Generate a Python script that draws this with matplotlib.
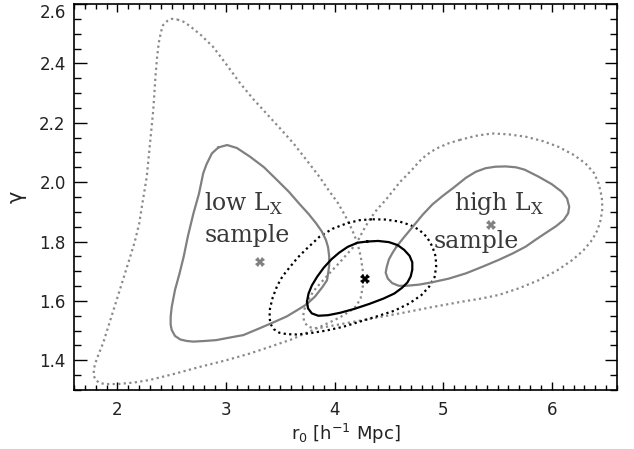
import matplotlib
matplotlib.use("Agg")
import matplotlib.pyplot as plt
from matplotlib.ticker import MultipleLocator

# ---- data ----
# low-Lx sample, 1-sigma (solid gray)
low1_x = [2.93, 3.01, 3.10, 3.22, 3.35, 3.47, 3.58, 3.68, 3.76, 3.83, 3.88, 3.92, 3.94, 3.95, 3.95,
          3.94, 3.93, 3.89, 3.82, 3.74, 3.66, 3.56, 3.45, 3.31, 3.16, 3.04, 2.91, 2.80, 2.70, 2.64,
          2.58, 2.53, 2.50, 2.49, 2.49, 2.50, 2.53, 2.57, 2.61, 2.65, 2.70, 2.75, 2.79, 2.82, 2.87]
low1_y = [2.117, 2.125, 2.115, 2.086, 2.050, 2.007, 1.967, 1.925, 1.893, 1.861, 1.835, 1.805, 1.780, 1.749, 1.720,
          1.693, 1.670, 1.648, 1.615, 1.588, 1.570, 1.548, 1.530, 1.508, 1.485, 1.477, 1.468, 1.465, 1.463, 1.465,
          1.470, 1.482, 1.502, 1.520, 1.547, 1.580, 1.637, 1.690, 1.749, 1.820, 1.895, 1.960, 2.030, 2.060, 2.097]
# low-Lx sample, 2-sigma (dotted gray)
low2_x = [2.55, 2.61, 2.67, 2.77, 2.88, 3.00, 3.13, 3.25, 3.37, 3.50, 3.62, 3.74, 3.86, 3.95, 4.03,
          4.10, 4.16, 4.21, 4.24, 4.26, 4.26, 4.24, 4.20, 4.14, 4.05, 3.95, 3.80, 3.60, 3.40, 3.22,
          3.00, 2.76, 2.53, 2.30, 2.15, 2.00, 1.90, 1.84, 1.80, 1.78, 1.785, 1.81, 1.87, 1.93, 1.99,
          2.05, 2.11, 2.16, 2.20, 2.23, 2.27, 2.30, 2.33, 2.35, 2.365, 2.38, 2.40, 2.42, 2.46, 2.50]
low2_y = [2.548, 2.540, 2.525, 2.495, 2.456, 2.398, 2.333, 2.280, 2.232, 2.180, 2.131, 2.075, 2.018, 1.970, 1.930,
          1.885, 1.840, 1.795, 1.750, 1.700, 1.650, 1.610, 1.583, 1.565, 1.545, 1.527, 1.502, 1.470, 1.445, 1.423,
          1.400, 1.378, 1.355, 1.334, 1.325, 1.320, 1.320, 1.323, 1.333, 1.350, 1.375, 1.405, 1.460, 1.530, 1.600,
          1.670, 1.740, 1.800, 1.860, 1.929, 2.018, 2.131, 2.243, 2.355, 2.420, 2.468, 2.505, 2.529, 2.543, 2.550]
# high-Lx sample, 1-sigma (solid gray)
high1_x = [4.57, 4.64, 4.72, 4.81, 4.90, 5.00, 5.09, 5.21, 5.30, 5.39, 5.48, 5.575, 5.67, 5.75, 5.88,
           6.00, 6.09, 6.14, 6.16, 6.15, 6.11, 6.04, 5.94, 5.85, 5.76, 5.64, 5.51, 5.36, 5.21, 5.05,
           4.90, 4.78, 4.66, 4.59, 4.53, 4.49, 4.47, 4.48, 4.50, 4.53]
high1_y = [1.783, 1.815, 1.850, 1.890, 1.925, 1.955, 1.980, 2.015, 2.035, 2.047, 2.052, 2.053, 2.050, 2.042, 2.018,
           1.993, 1.968, 1.945, 1.917, 1.895, 1.873, 1.852, 1.828, 1.806, 1.783, 1.760, 1.738, 1.715, 1.693, 1.675,
           1.663, 1.655, 1.651, 1.651, 1.660, 1.675, 1.695, 1.715, 1.740, 1.760]
# high-Lx sample, 2-sigma (dotted gray)
high2_x = [5.15, 5.30, 5.45, 5.60, 5.76, 5.92, 6.06, 6.20, 6.31, 6.39, 6.43, 6.46, 6.465, 6.45, 6.42,
           6.37, 6.29, 6.19, 6.05, 5.88, 5.70, 5.51, 5.35, 5.18, 5.03, 4.88, 4.74, 4.60, 4.45, 4.30,
           4.15, 4.00, 3.88, 3.80, 3.75, 3.72, 3.71, 3.72, 3.74, 3.77, 3.81, 3.86, 3.92, 3.98, 4.04,
           4.10, 4.16, 4.21, 4.26, 4.32, 4.39, 4.47, 4.54, 4.60, 4.66, 4.72, 4.78, 4.84, 4.90, 4.96, 5.05]
high2_y = [2.142, 2.156, 2.164, 2.161, 2.153, 2.138, 2.119, 2.092, 2.063, 2.030, 1.996, 1.951, 1.910, 1.873, 1.838,
           1.805, 1.770, 1.738, 1.703, 1.670, 1.643, 1.620, 1.608, 1.598, 1.588, 1.578, 1.568, 1.558, 1.548, 1.538,
           1.528, 1.518, 1.510, 1.508, 1.515, 1.530, 1.550, 1.570, 1.590, 1.612, 1.635, 1.656, 1.680, 1.704, 1.727,
           1.752, 1.776, 1.800, 1.835, 1.873, 1.908, 1.940, 1.972, 2.000, 2.022, 2.045, 2.070, 2.090, 2.105, 2.117, 2.131]
# total sample, 1-sigma (solid black)
tot1_x = [4.30, 4.40, 4.50, 4.58, 4.64, 4.69, 4.715, 4.715, 4.70, 4.67, 4.62, 4.55, 4.45, 4.32, 4.18,
          4.05, 3.94, 3.85, 3.79, 3.755, 3.745, 3.76, 3.79, 3.84, 3.90, 3.97, 4.04, 4.12, 4.21]
tot1_y = [1.800, 1.802, 1.798, 1.788, 1.772, 1.752, 1.730, 1.705, 1.682, 1.662, 1.644, 1.625, 1.608, 1.590, 1.573,
          1.560, 1.552, 1.550, 1.558, 1.575, 1.598, 1.625, 1.652, 1.682, 1.712, 1.740, 1.762, 1.782, 1.796]
# total sample, 2-sigma (dotted black)
tot2_x = [4.35, 4.47, 4.60, 4.70, 4.78, 4.85, 4.90, 4.93, 4.935, 4.92, 4.87, 4.80, 4.69, 4.55, 4.38,
          4.23, 4.08, 3.92, 3.77, 3.65, 3.56, 3.49, 3.44, 3.41, 3.40, 3.405, 3.43, 3.47, 3.52, 3.59,
          3.66, 3.74, 3.86, 3.98, 4.11, 4.23]
tot2_y = [1.875, 1.874, 1.867, 1.855, 1.839, 1.815, 1.783, 1.750, 1.715, 1.680, 1.648, 1.620, 1.592, 1.567, 1.547,
          1.530, 1.513, 1.500, 1.491, 1.487, 1.488, 1.493, 1.505, 1.522, 1.545, 1.575, 1.612, 1.650, 1.683, 1.715,
          1.746, 1.775, 1.816, 1.843, 1.861, 1.872]

# best-fit points
best_low = (3.31, 1.732)
best_high = (5.44, 1.856)
best_tot = (4.275, 1.673)

xticks = [2, 3, 4, 5, 6]
yticks = [1.4, 1.6, 1.8, 2.0, 2.2, 2.4, 2.6]
yticklabels = ["1.4", "1.6", "1.8", "2.0", "2.2", "2.4", "2.6"]

GRAY = "#808080"
DGRAY = "#8a8a8a"


def closed(xs, ys):
    return list(xs) + [xs[0]], list(ys) + [ys[0]]


fig = plt.figure(figsize=(6.34, 4.49), dpi=100)
ax = fig.add_axes([74 / 634, 59 / 449, 543 / 634, 386 / 449])

dot = (0, (1.0, 1.5))
for xs, ys, c, ls in [(low2_x, low2_y, DGRAY, dot), (high2_x, high2_y, DGRAY, dot),
                      (tot2_x, tot2_y, "black", dot),
                      (low1_x, low1_y, GRAY, "-"), (high1_x, high1_y, GRAY, "-"),
                      (tot1_x, tot1_y, "black", "-")]:
    cx, cy = closed(xs, ys)
    ax.plot(cx, cy, color=c, linestyle=ls, lw=1.6, solid_joinstyle="round",
            dash_capstyle="butt")

ax.plot([best_low[0]], [best_low[1]], marker="X", color=GRAY, ms=7, mew=0)
ax.plot([best_high[0]], [best_high[1]], marker="X", color=GRAY, ms=7, mew=0)
ax.plot([best_tot[0]], [best_tot[1]], marker="X", color="black", ms=7, mew=0)

tfont = dict(family="DejaVu Serif", fontsize=17, color="#383838", ha="left", va="baseline")
ax.text(2.80, 1.905, "low L$_{\\mathregular{X}}$", **tfont)
ax.text(2.80, 1.800, "sample", **tfont)
ax.text(5.10, 1.907, "high L$_{\\mathregular{X}}$", **tfont)
ax.text(4.91, 1.777, "sample", **tfont)

ax.set_xlim(1.6, 6.6)
ax.set_ylim(1.3, 2.6)
ax.set_xticks(xticks)
ax.set_yticks(yticks)
ax.set_yticklabels(yticklabels)
ax.xaxis.set_minor_locator(MultipleLocator(0.1))
ax.yaxis.set_minor_locator(MultipleLocator(0.05))
ax.tick_params(which="both", direction="in", top=True, right=True, labelsize=12,
               colors="black", labelcolor="#222222")
ax.tick_params(axis="x", which="major", length=6, width=1)
ax.tick_params(axis="x", which="minor", length=3.5, width=1)
ax.tick_params(axis="y", which="major", length=9, width=1)
ax.tick_params(axis="y", which="minor", length=5, width=1)
ax.tick_params(axis="x", pad=8)
ax.tick_params(axis="y", pad=6)
ax.get_yticklabels()[-1].set_verticalalignment("top")
for s in ax.spines.values():
    s.set_linewidth(1.2)

ax.set_xlabel("r$_{\\mathregular{0}}$ [h$^{\\mathregular{-1}}$ Mpc]", fontsize=13, color="#222222",
              labelpad=2)
ax.set_ylabel("γ", fontsize=15, color="#222222", labelpad=9)

fig.savefig("out.png", dpi=100)
